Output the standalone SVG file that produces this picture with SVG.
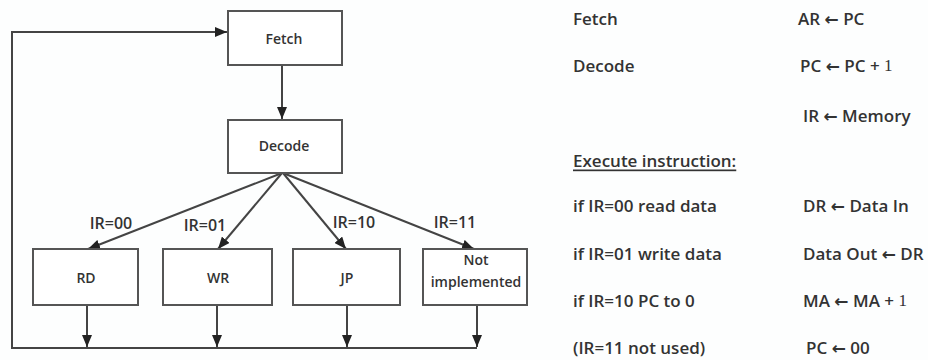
<svg xmlns="http://www.w3.org/2000/svg" width="928" height="360" viewBox="0 0 928 360">
<style>
.box{fill:#fff;stroke:#555;stroke-width:2}
.lbl{font-family:"Open Sans","DejaVu Sans",sans-serif;font-weight:600;font-size:14px;fill:#333;text-anchor:middle;dominant-baseline:central}
.cond{font-family:"Open Sans","DejaVu Sans",sans-serif;font-weight:600;font-size:16px;fill:#333;text-anchor:middle;dominant-baseline:central}
.txt{font-family:"Open Sans","DejaVu Sans",sans-serif;font-weight:600;font-size:17px;fill:#333;dominant-baseline:central}
.ser{font-family:"Liberation Serif",serif;font-weight:400}
.ln{fill:none;stroke:#444;stroke-width:2}
</style>
<defs>
<marker id="ah" viewBox="0 0 12 10" refX="12" refY="5" markerWidth="12" markerHeight="10" markerUnits="userSpaceOnUse" orient="auto">
<path d="M0,0 L12,5 L0,10 z" fill="#222"/>
</marker>
</defs>
<rect width="928" height="360" fill="#fdfefe"/>
<g id="connectors">
<path class="ln" d="M282,65 V119" marker-end="url(#ah)"/>
<path class="ln" d="M282,173 L88,249" marker-end="url(#ah)"/>
<path class="ln" d="M282,173 L218,249" marker-end="url(#ah)"/>
<path class="ln" d="M283,173 L346,249" marker-end="url(#ah)"/>
<path class="ln" d="M283,173 L474,249" marker-end="url(#ah)"/>
<path class="ln" d="M87,305 V347" marker-end="url(#ah)"/>
<path class="ln" d="M217,305 V347" marker-end="url(#ah)"/>
<path class="ln" d="M347,305 V347" marker-end="url(#ah)"/>
<path class="ln" d="M477,305 V347" marker-end="url(#ah)"/>
<path class="ln" d="M477,348 H12 V32 H227" marker-end="url(#ah)"/>
<text class="cond" x="111" y="223">IR=00</text>
<text class="cond" x="205" y="225">IR=01</text>
<text class="cond" x="354" y="222">IR=10</text>
<text class="cond" x="455" y="222">IR=11</text>
</g>
<g id="fetch"><rect class="box" x="228" y="11" width="114" height="54"/><text class="lbl" x="284" y="38">Fetch</text></g>
<g id="decode"><rect class="box" x="228" y="120" width="114" height="53"/><text class="lbl" x="284" y="145">Decode</text></g>
<g id="rd"><rect class="box" x="33" y="249" width="105" height="56"/><text class="lbl" x="86" y="277">RD</text></g>
<g id="wr"><rect class="box" x="163" y="249" width="109" height="56"/><text class="lbl" x="218" y="277">WR</text></g>
<g id="jp"><rect class="box" x="293" y="249" width="107" height="56"/><text class="lbl" x="347" y="277">JP</text></g>
<g id="ni"><rect class="box" x="423" y="249" width="104" height="56"/><text class="lbl" x="476" y="259">Not</text><text class="lbl" x="476" y="281">implemented</text></g>
<g id="rtl">
<text class="txt" x="573" y="18">Fetch</text>
<text class="txt" x="798" y="18">AR ← PC</text>
<text class="txt" x="573" y="65">Decode</text>
<text class="txt" x="800" y="65">PC ← PC + <tspan class="ser">1</tspan></text>
<text class="txt" x="803" y="115">IR ← Memory</text>
<text class="txt" x="573" y="160" text-decoration="underline">Execute instruction:</text>
<text class="txt" x="573" y="205">if IR=00 read data</text>
<text class="txt" x="803" y="205">DR ← Data In</text>
<text class="txt" x="573" y="253">if IR=01 write data</text>
<text class="txt" x="803" y="253">Data Out ← DR</text>
<text class="txt" x="573" y="300">if IR=10 PC to 0</text>
<text class="txt" x="803" y="300">MA ← MA + <tspan class="ser">1</tspan></text>
<text class="txt" x="573" y="347">(IR=11 not used)</text>
<text class="txt" x="806" y="347">PC ← 00</text>
</g>
</svg>
